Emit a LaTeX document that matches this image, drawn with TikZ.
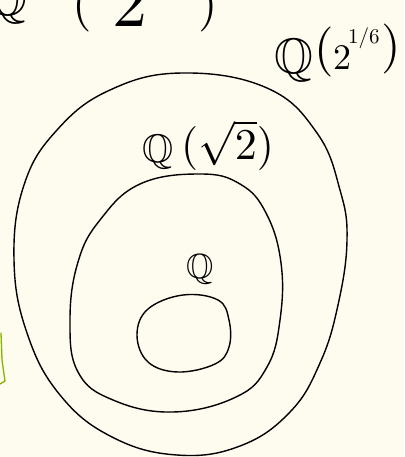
\documentclass[tikz,border=0pt]{standalone}
\usepackage{amssymb}
\usepackage{graphicx}
\definecolor{paper}{HTML}{FEFCEF}
\definecolor{penGreen}{HTML}{86B300}
\tikzset{
  ink/.style={line width=1.4pt, line cap=round, line join=round},
  lbl/.style={inner sep=0pt, anchor=base west}
}
\begin{document}
\begin{tikzpicture}[x=1pt,y=-1pt]
\fill[paper] (0,0) rectangle (404,457);
\useasboundingbox (0,0) rectangle (404,457);
\begin{scope}
\clip (0,0) rectangle (404,457);
% partial top-left label (cut by the top edge)
\node[lbl] (tlQ) at (-12,16) {\scalebox{5}{$\mathbb{Q}$}};
\node[lbl] (tlA) at (72,20) {\scalebox{5}{$($}};
\node[lbl] (tlB) at (112,27) {\scalebox{7}{$2$}};
\node[lbl] (tlC) at (198,20) {\scalebox{5}{$)$}};
% green stroke at left edge
\draw[penGreen, line width=1.3pt, line cap=round] (1,333) -- (2,360) -- (5,381) -- (0,384);
\end{scope}
% outer field
\draw[ink] plot[smooth cycle, tension=0.7] coordinates {
 (182,73) (267,88) (317,133) (340,190) (347,240)
 (338,305) (320,363) (290,412) (240,446) (177,455)
 (112,437) (60,395) (27,333) (14,260) (24,185) (57,130) (110,90)};
% middle field
\draw[ink] plot[smooth cycle, tension=0.7] coordinates {
 (200,174) (240,184) (266,213) (281,263) (280,320) (267,367)
 (236,397) (173,412) (113,400) (78,372) (70,320)
 (78,262) (100,220) (140,184)};
% inner field
\draw[ink] plot[smooth cycle, tension=0.65] coordinates {
 (183,295) (218,300) (229,320) (229,347) (215,364) (178,372)
 (148,362) (137,335) (148,309)};
% labels
\node[lbl] (lQ) at (186,278) {\scalebox{3.5}{$\mathbb{Q}$}};
\node[lbl] (lQsQ) at (142,162) {\scalebox{4}{$\mathbb{Q}$}};
\node[lbl] (lQsR) at (181,160) {\scalebox{4.4}{$(\sqrt{2})$}};
\node[lbl] (lQ6Q) at (274,74) {\scalebox{5}{$\mathbb{Q}$}};
\node[lbl] (lQ6a) at (314,65) {\scalebox{5}{$($}};
\node[lbl] (lQ6b) at (333,70) {\scalebox{3.6}{$2$}};
\node[lbl] (lQ6c) at (348,44) {\scalebox{2.1}{$1/6$}};
\node[lbl] (lQ6d) at (381,62) {\scalebox{5}{$)$}};
\end{tikzpicture}
\end{document}
